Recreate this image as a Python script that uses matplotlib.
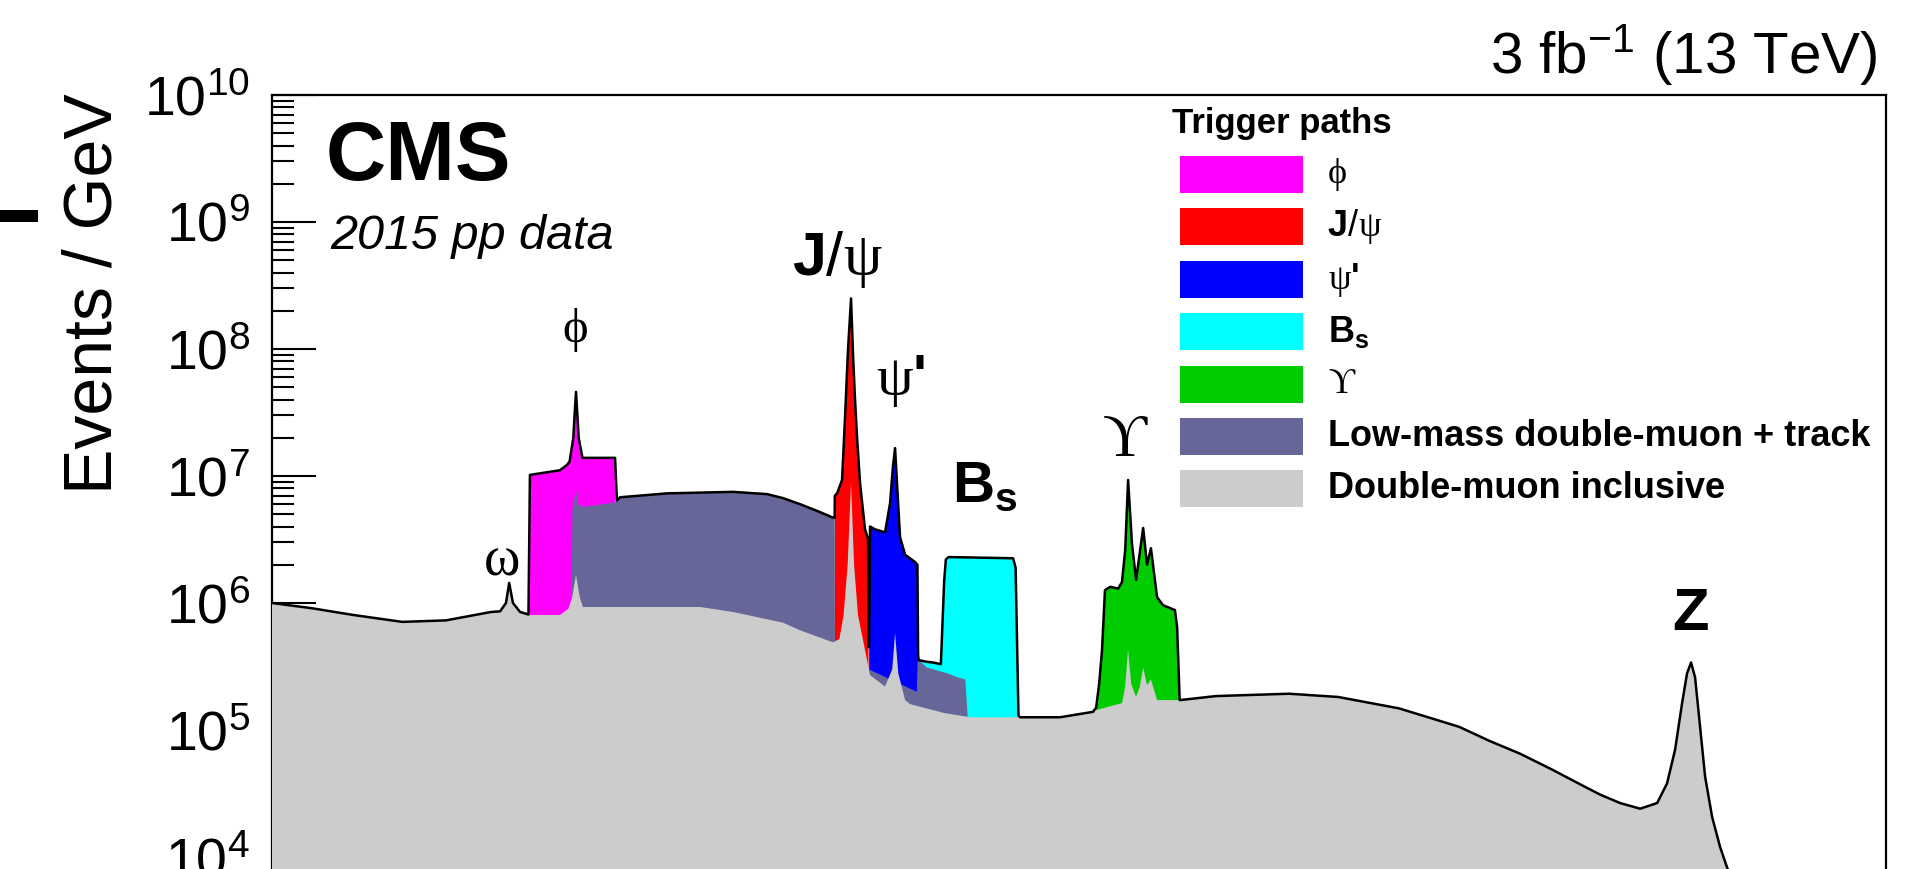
import numpy as np
import matplotlib
matplotlib.use('Agg')
import matplotlib.pyplot as plt
from matplotlib.patches import Rectangle
from matplotlib.offsetbox import TextArea, HPacker, AnnotationBbox
from matplotlib.ticker import LogLocator, LogFormatterSciNotation, NullLocator

# dimuon mass spectrum (mass in GeV, events / GeV)
gray_mass = [0.300, 0.352, 0.416, 0.507, 0.605, 0.725, 0.752, 0.770, 0.780, 0.792, 0.815, 0.848,
             0.957, 0.990, 1.005, 1.021, 1.037, 1.050, 1.376, 1.683, 1.922, 2.350, 2.518, 2.875,
             2.950, 3.000, 3.050, 3.092, 3.130, 3.180, 3.270, 3.338, 3.546, 3.650, 3.692, 3.740,
             3.844, 3.920, 4.500, 5.000, 6.108, 7.177, 8.195, 8.328, 9.213, 9.330, 9.438, 9.560,
             9.748, 9.900, 10.03, 10.19, 10.35, 10.61, 11.64, 13.45, 18.06, 22.0, 28.12, 35.81,
             40.5, 45.81, 52.0, 58.57, 63.22, 68.52, 74.28, 79.55, 82.79, 85.51, 87.96, 89.74,
             91.20, 92.68, 94.58, 96.50, 99.26, 102.5, 105.4, 115.0, 140.0, 200.0]
gray_val = [1.0e6, 9.1e5, 8.05e5, 7.1e5, 7.3e5, 8.5e5, 8.6e5, 1.0e6, 1.44e6, 1.0e6, 8.5e5, 8.05e5,
            8.05e5, 9.0e5, 1.1e6, 1.66e6, 1.1e6, 9.3e5, 9.3e5, 9.3e5, 8.5e5, 7.0e5, 6.1e5, 4.9e5,
            5.2e5, 8.0e5, 2.0e6, 8.8e6, 2.0e6, 8.0e5, 4.3e5, 2.7e5, 2.2e5, 3.0e5, 5.8e5, 2.8e5,
            1.72e5, 1.6e5, 1.36e5, 1.26e5, 1.26e5, 1.26e5, 1.39e5, 1.44e5, 1.63e5, 2.2e5, 4.3e5, 2.3e5,
            1.82e5, 2.2e5, 3.1e5, 2.26e5, 2.5e5, 1.72e5, 1.72e5, 1.85e5, 1.93e5, 1.82e5, 1.48e5, 1.06e5,
            8.2e4, 6.5e4, 4.9e4, 3.7e4, 3.1e4, 2.66e4, 2.4e4, 2.66e4, 3.8e4, 7.0e4, 1.63e5, 2.8e5,
            3.4e5, 2.6e5, 1.06e5, 4.3e4, 2.07e4, 1.2e4, 8.3e3, 3.0e3, 8.0e2, 2.0e2]

phi_mass = [0.843, 0.848, 0.957, 0.984, 0.995, 1.010, 1.015, 1.021, 1.027, 1.032, 1.048, 1.195, 1.204]
phi_val = [8.05e5, 1.02e7, 1.11e7, 1.22e7, 1.3e7, 2.0e7, 3.0e7, 4.6e7, 3.0e7, 2.0e7, 1.39e7, 1.39e7, 8.0e5]

lowmass_mass = [1.003, 1.006, 1.012, 1.021, 1.030, 1.050, 1.195, 1.219, 1.474, 1.922, 2.204, 2.350,
                2.518, 2.700, 2.875, 2.895, 2.898, 4.030, 4.045, 4.200, 4.550, 4.750, 4.900, 4.950]
lowmass_val = [9.0e5, 5.5e6, 6.2e6, 7.8e6, 6.0e6, 5.7e6, 6.2e6, 6.8e6, 7.3e6, 7.5e6, 7.2e6, 6.7e6,
               6.0e6, 5.3e6, 4.7e6, 4.7e6, 4.0e5, 2.0e5, 3.6e5, 3.1e5, 2.8e5, 2.6e5, 2.5e5, 1.2e5]

jpsi_mass = [2.893, 2.896, 2.923, 2.982, 3.018, 3.054, 3.092, 3.117, 3.142, 3.168, 3.206, 3.271, 3.311, 3.318]
jpsi_val = [5.0e5, 7.0e6, 7.3e6, 9.3e6, 2.9e7, 9.8e7, 2.5e8, 9.0e7, 4.0e7, 2.0e7, 8.8e6, 3.8e6, 3.2e6, 4.5e5]

psi2_mass = [3.326, 3.338, 3.406, 3.546, 3.618, 3.660, 3.692, 3.720, 3.767, 3.844, 4.002, 4.040, 4.051]
psi2_val = [4.5e5, 4.0e6, 3.8e6, 3.6e6, 6.1e6, 1.18e7, 1.66e7, 8.8e6, 3.3e6, 2.4e6, 2.1e6, 2.0e6, 3.9e5]

bs_mass = [4.060, 4.300, 4.440, 4.500, 4.530, 4.580, 5.940, 6.000, 6.070]
bs_val = [3.5e5, 3.4e5, 3.3e5, 1.5e6, 2.2e6, 2.3e6, 2.25e6, 1.9e6, 1.3e5]

ups_mass = [8.30, 8.40, 8.50, 8.60, 8.78, 9.07, 9.21, 9.33, 9.44, 9.59, 9.75, 9.91, 10.03,
            10.19, 10.35, 10.61, 10.87, 11.40, 11.50, 11.62]
ups_val = [1.5e5, 2.3e5, 4.3e5, 1.26e6, 1.34e6, 1.3e6, 1.46e6, 2.6e6, 9.3e6, 2.9e6, 1.52e6, 2.6e6, 3.9e6,
           2.0e6, 2.7e6, 1.11e6, 9.6e5, 8.8e5, 6.5e5, 1.72e5]

W, H = 1907, 869


def fx(X):
    return X / W


def fy(Y):
    return 1 - Y / H


plt.rcParams['font.family'] = ['Liberation Sans', 'DejaVu Sans']
plt.rcParams['mathtext.fontset'] = 'custom'
plt.rcParams['mathtext.rm'] = 'Liberation Sans'
plt.rcParams['mathtext.bf'] = 'Liberation Sans:bold'
plt.rcParams['mathtext.it'] = 'Liberation Sans:italic'
plt.rcParams['mathtext.default'] = 'regular'
SERIF = ['Liberation Serif', 'DejaVu Serif']
SANS = ['Liberation Sans', 'DejaVu Sans']

fig = plt.figure(figsize=(W / 100, H / 100), dpi=100)
ax = fig.add_axes([fx(272), 0, fx(1886) - fx(272), fy(95)])
ax.set_xscale('log')
ax.set_yscale('log')
ax.set_xlim(0.3, 200)
ax.set_ylim(10 ** (10 - (H - 95) / 127), 1e10)

# draw order as in the original (gray inclusive on top of the trigger paths)
layers = [
    (phi_mass, phi_val, '#ff00ff', 1),
    (jpsi_mass, jpsi_val, '#ff0000', 2),
    (psi2_mass, psi2_val, '#0000ff', 3),
    (bs_mass, bs_val, '#00ffff', 4),
    (lowmass_mass, lowmass_val, '#666699', 5),
    (ups_mass, ups_val, '#00cc00', 6),
    (gray_mass, gray_val, '#cccccc', 7),
]
for m, v, col, z in layers:
    ax.fill_between(m, v, 1.0, color=col, lw=0, zorder=z)

# black outline = upper envelope of all paths
grid = np.unique(np.concatenate([np.array(m) for m, v, c, z in layers]))
lg = np.log10(grid)
top = np.full(grid.shape, -np.inf)
for m, v, c, z in layers:
    y = np.interp(lg, np.log10(m), np.log10(v), left=-np.inf, right=-np.inf)
    top = np.maximum(top, y)
ax.plot(grid, 10 ** top, color='black', lw=1.8, zorder=8)

ax.yaxis.set_major_locator(LogLocator(base=10, numticks=20))
ax.yaxis.set_minor_locator(LogLocator(base=10, subs=np.arange(2, 10), numticks=20))
ax.yaxis.set_major_formatter(LogFormatterSciNotation())
ax.tick_params(axis='y', which='major', direction='in', length=32, width=1.5,
               labelsize=40, pad=16, left=True, right=False)
ax.tick_params(axis='y', which='minor', direction='in', length=16, width=1.5, left=True, right=False)
ax.xaxis.set_minor_locator(NullLocator())
ax.tick_params(axis='x', which='both', bottom=False, top=False, labelbottom=False)
ax.spines['bottom'].set_visible(False)
for s in ['left', 'right', 'top']:
    ax.spines[s].set_linewidth(1.6)

fig.text(fx(126), fy(294), 'Events / GeV', rotation=90, fontsize=49, ha='right', va='center')
fig.add_artist(Rectangle((0, fy(222)), fx(38), 12 / H, transform=fig.transFigure,
                         color='black', lw=0))

fig.text(fx(1878), fy(73), r'3 fb$^{-1}$ (13 TeV)', fontsize=42, ha='right', va='baseline')
fig.text(fx(326), fy(180), 'CMS', fontsize=60, fontweight='bold', ha='left', va='baseline')
fig.text(fx(330), fy(249), '2015 pp data', fontsize=35, style='italic', ha='left', va='baseline')


def put_mixed(parts, X, Y, size, align=(0.5, 0.5)):
    boxes = [TextArea(t, textprops=dict(fontsize=size, family=fam, fontweight=w))
             for t, fam, w in parts]
    pack = HPacker(children=boxes, align='baseline', pad=0, sep=0)
    ab = AnnotationBbox(pack, (fx(X), fy(Y)), xycoords='figure fraction',
                        frameon=False, box_alignment=align, pad=0)
    fig.add_artist(ab)


# peak labels
fig.text(fx(502), fy(575), 'ω', fontsize=40, family=SERIF, ha='center', va='baseline')
fig.text(fx(575), fy(342), 'ϕ', fontsize=35, family=SERIF, ha='center', va='baseline')
put_mixed([('J', SANS, 'bold'), ('/', SANS, 'normal'), ('ψ', SERIF, 'normal')], 837, 259, 44)
put_mixed([('ψ', SERIF, 'normal'), ("'", SANS, 'bold')], 901, 380, 42)
fig.text(fx(952), fy(502), r'$\mathbf{B}_{\mathbf{s}}$', fontsize=42, ha='left', va='baseline')
fig.text(fx(1125), fy(456), 'ϒ', fontsize=44, family=SERIF, ha='center', va='baseline')
fig.text(fx(1690), fy(630), 'Z', fontsize=43, fontweight='bold', ha='center', va='baseline')

# legend
fig.text(fx(1172), fy(133), 'Trigger paths', fontsize=25, fontweight='bold', ha='left', va='baseline')
leg_colors = ['#ff00ff', '#ff0000', '#0000ff', '#00ffff', '#00cc00', '#666699', '#cccccc']
leg_labels = [
    [('ϕ', SERIF, 'normal')],
    [('J', SANS, 'bold'), ('/', SANS, 'normal'), ('ψ', SERIF, 'normal')],
    [('ψ', SERIF, 'normal'), ("'", SANS, 'bold')],
    [(r'$\mathbf{B}_{\mathbf{s}}$', SANS, 'bold')],
    [('ϒ', SERIF, 'normal')],
    [('Low-mass double-muon + track', SANS, 'bold')],
    [('Double-muon inclusive', SANS, 'bold')],
]
for i, (col, parts) in enumerate(zip(leg_colors, leg_labels)):
    yc = 174.5 + i * 52.4
    fig.add_artist(Rectangle((fx(1180), fy(yc + 18.5)), 123 / W, 37 / H,
                             transform=fig.transFigure, color=col, lw=0))
    put_mixed(parts, 1328, yc, 26, align=(0, 0.5))

fig.savefig('out.png', dpi=100)
